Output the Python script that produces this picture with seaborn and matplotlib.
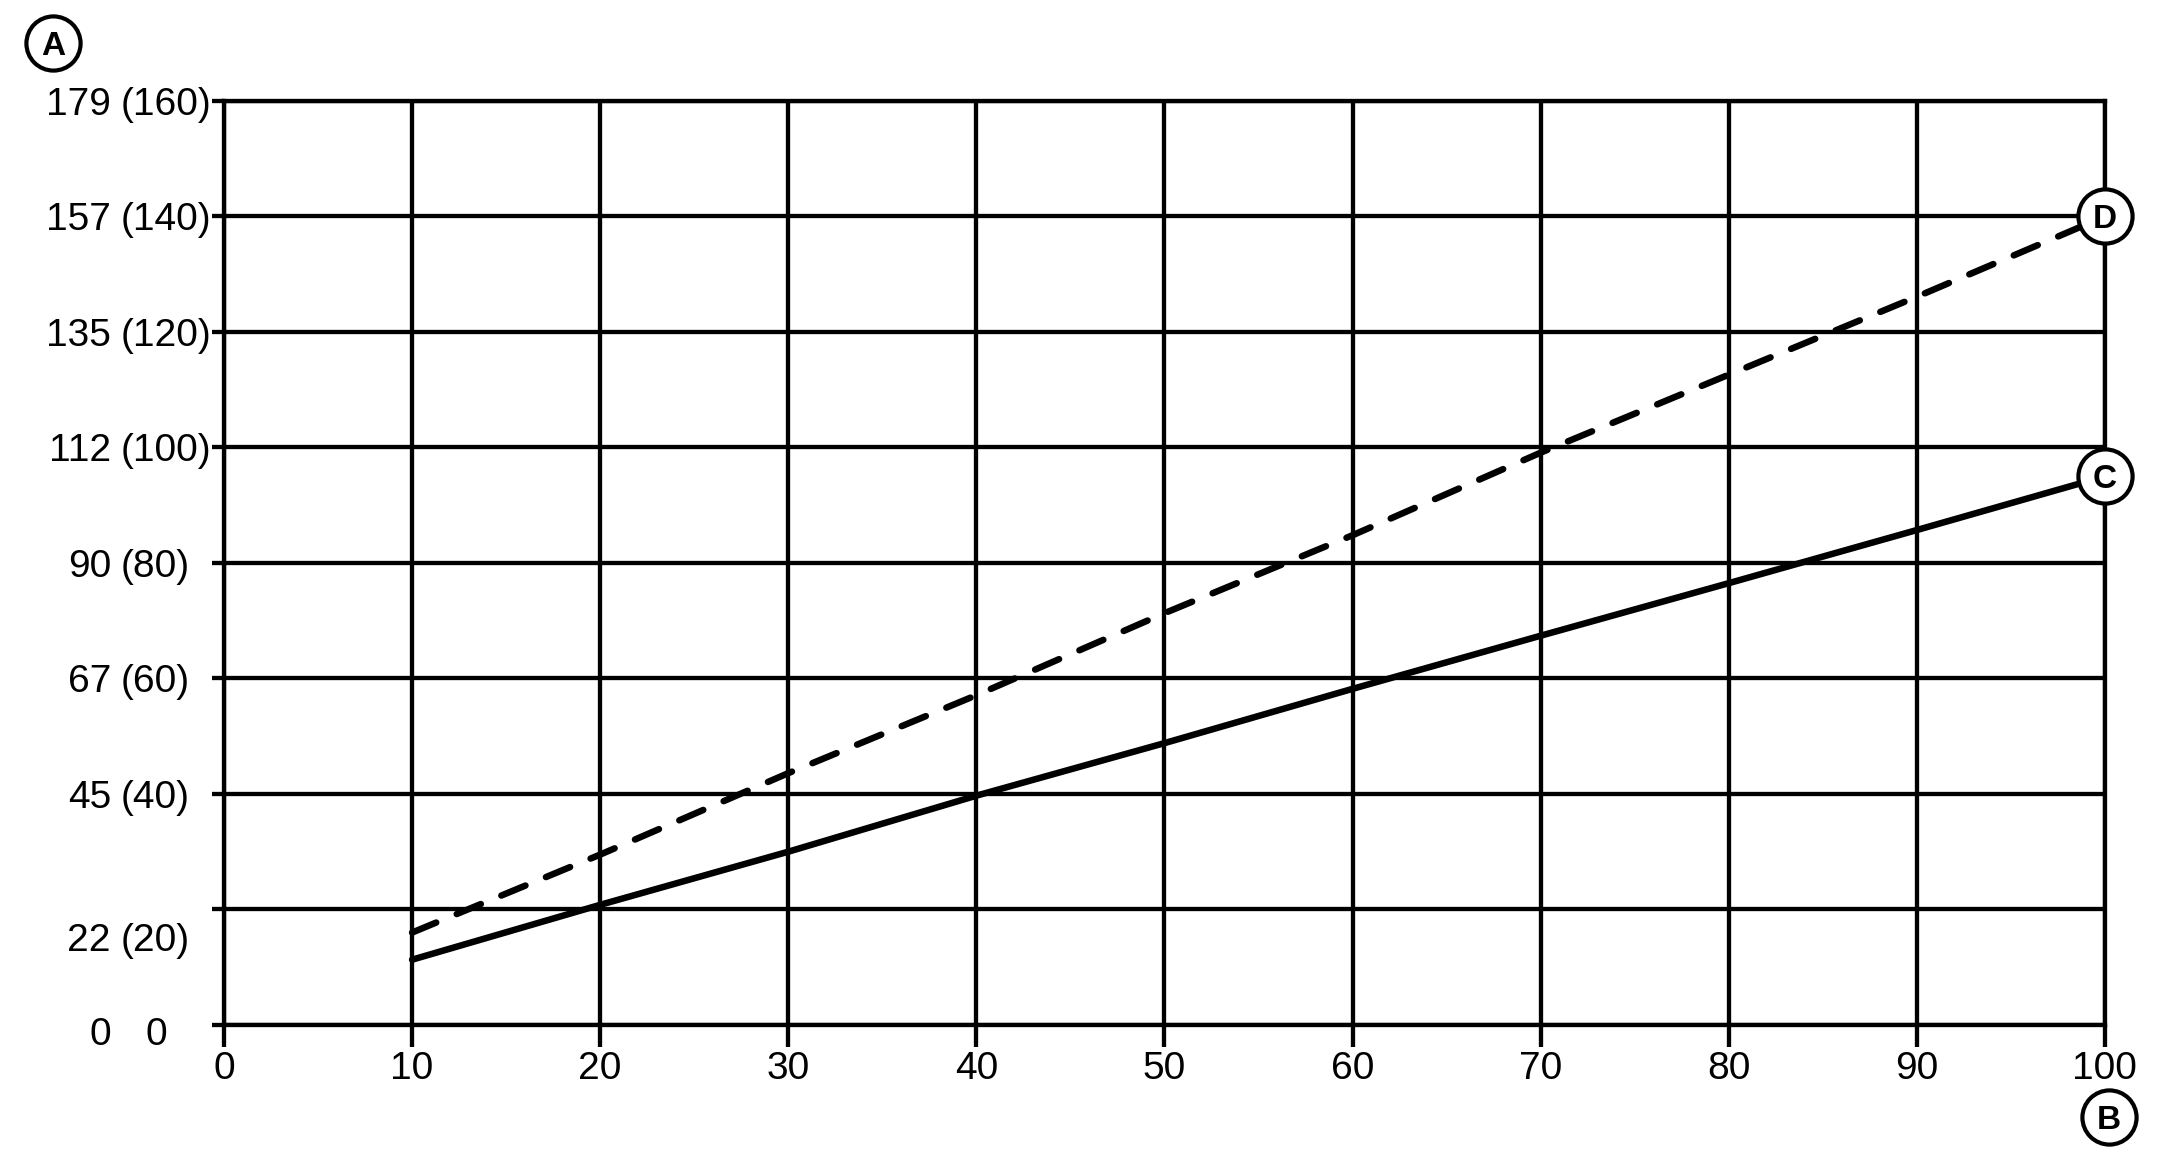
import pandas as pd
import seaborn as sns
import matplotlib.pyplot as plt
from matplotlib import transforms
from matplotlib.lines import Line2D

# values
x_load = [10, 20, 30, 40, 50, 60, 70, 80, 90, 100]
c_values = [11.3, 20.8, 30.0, 39.7, 48.8, 58.2, 67.4, 76.5, 85.7, 95.0]
d_values = [16.0, 29.5, 43.6, 57.1, 71.3, 84.8, 99.1, 112.6, 126.1, 140.0]

x_ticks = [0, 10, 20, 30, 40, 50, 60, 70, 80, 90, 100]
y_ticks = [0, 20, 40, 60, 80, 100, 120, 140, 160]

# y labels come in two columns: value and value in brackets
y_label_pos = [160, 140, 120, 100, 80, 60, 40, 15.3]
y_label_main = ["179", "157", "135", "112", "90", "67", "45", "22"]
y_label_alt = ["(160)", "(140)", "(120)", "(100)", "(80)", "(60)", "(40)", "(20)"]

df = pd.DataFrame({
    "x": x_load + x_load,
    "y": c_values + d_values,
    "curve": ["C"] * len(x_load) + ["D"] * len(x_load),
})

sns.set_style("ticks")
plt.rcParams["font.family"] = ["Liberation Sans", "DejaVu Sans"]
plt.rcParams["text.color"] = "black"
plt.rcParams["xtick.color"] = "black"
plt.rcParams["ytick.color"] = "black"

fig = plt.figure(figsize=(21.58, 11.58), dpi=100)
ax = fig.add_axes([0.1038, 0.1149, 0.8716, 0.7979])

sns.lineplot(data=df, x="x", y="y", style="curve",
             dashes={"C": "", "D": (4.0, 3.4)},
             color="black", linewidth=4.7, legend=False, ax=ax,
             dash_capstyle="round", zorder=3)

ax.set_xlim(0, 100)
ax.set_ylim(0, 160)
ax.set_xticks(x_ticks)
ax.set_yticks(y_ticks)
ax.set_xlabel("")
ax.set_ylabel("")
ax.grid(True, color="black", linewidth=3.1)
ax.set_axisbelow(True)
for s in ax.spines.values():
    s.set_visible(True)
    s.set_color("black")
    s.set_linewidth(3.1)
ax.tick_params(axis="x", length=15.8, width=3.1, pad=3, labelsize=28,
               color="black", labelcolor="black")
ax.tick_params(axis="y", length=8.6, width=3.1, labelleft=False, color="black")

# y tick texts
tr = transforms.blended_transform_factory(ax.transAxes, ax.transData)
for pos, main, alt in zip(y_label_pos, y_label_main, y_label_alt):
    ax.text(-0.0601, pos, main, transform=tr, ha="right", va="center_baseline",
            fontsize=28, color="black")
    ax.text(-0.0548, pos, alt, transform=tr, ha="left", va="center_baseline",
            fontsize=28, color="black")
ax.text(-0.0601, -1.0, "0", transform=tr, ha="right", va="center_baseline",
        fontsize=28, color="black")
ax.text(-0.0415, -1.0, "0", transform=tr, ha="left", va="center_baseline",
        fontsize=28, color="black")

# circled letters
def circled(x, y, letter, transform, host):
    mark = Line2D([x], [y], marker="o", markersize=39, markerfacecolor="white",
                  markeredgecolor="black", markeredgewidth=3.0,
                  transform=transform, clip_on=False, zorder=5)
    host.add_artist(mark)
    host.text(x, y, letter, transform=transform, ha="center", va="center_baseline",
              fontsize=24, fontweight="bold", color="black", zorder=6)

circled(100, d_values[-1], "D", ax.transData, ax)
circled(100, c_values[-1], "C", ax.transData, ax)
circled(53 / 2158, 1 - 43 / 1158, "A", fig.transFigure, fig)
circled(2109 / 2158, 1 - 1117 / 1158, "B", fig.transFigure, fig)

fig.savefig("out.png", dpi=100)
